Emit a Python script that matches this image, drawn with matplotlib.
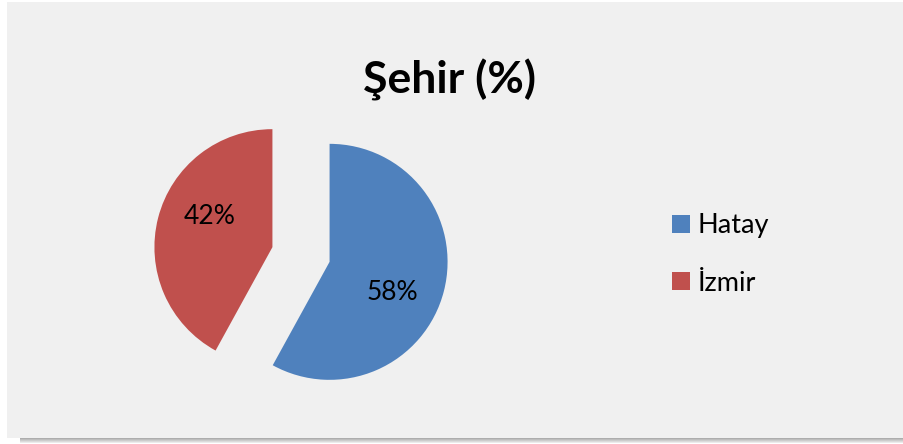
import numpy as np
import matplotlib.pyplot as plt
from matplotlib.patches import Rectangle

# data
cities = ["Hatay", "İzmir"]
shares = [58, 42]
colors = ["#4f81bd", "#c0504d"]
title = "Şehir (%)"

plt.rcParams['font.family'] = ['Lato', 'DejaVu Sans']

W, H = 904, 444
fig = plt.figure(figsize=(W / 100, H / 100), dpi=100)
fig.patch.set_facecolor("white")

# shadow under the chart panel
for i in range(6):
    g = 0.62 + i * 0.06
    fig.patches.append(Rectangle((20 / W, (H - 438 - i) / H), (W - 20) / W, 1 / H,
                                 transform=fig.transFigure, facecolor=(g, g, g),
                                 edgecolor="none", zorder=-2))
# gray panel
fig.patches.append(Rectangle((7 / W, (H - 438) / H), (W - 7) / W, 436 / H,
                             transform=fig.transFigure, facecolor="#f0f0f0",
                             edgecolor="none", zorder=-1))

# pie axes: 1 data unit = 118 px, centred at (301, 254.5) px
r_px = 118
half = 1.4
cx, cy = 301, 254.5
ax = fig.add_axes([(cx - half * r_px) / W, (H - cy - half * r_px) / H,
                   2 * half * r_px / W, 2 * half * r_px / H])
ax.patch.set_alpha(0)

wedges, _ = ax.pie(shares, colors=colors, startangle=90, counterclock=False,
                   explode=[0.25, 0.25], radius=1,
                   wedgeprops=dict(linewidth=0))
ax.set_xlim(-half, half)
ax.set_ylim(-half, half)
ax.set_aspect("equal")
ax.axis("off")

# percentage labels, placed a bit clockwise of the wedge middle like Excel
for w, v in zip(wedges, shares):
    mid = np.deg2rad((w.theta1 + w.theta2) / 2 - 12)
    ox, oy = w.center
    ax.text(ox + 0.59 * np.cos(mid), oy + 0.59 * np.sin(mid), f"{v}%",
            ha="center", va="center", fontsize=19, color="black")

fig.text(450 / W, 1 - 80 / H, title, ha="center", va="center",
         fontsize=32, fontweight="bold", color="black")

fig.legend(wedges, cities, loc="center left",
           bbox_to_anchor=(672 / W, 1 - 254.5 / H), frameon=False,
           fontsize=19.5, handlelength=0.65, handleheight=0.65,
           handletextpad=0.3, labelspacing=1.2, borderpad=0, borderaxespad=0)

fig.savefig("out.png", dpi=100, facecolor=fig.get_facecolor())
